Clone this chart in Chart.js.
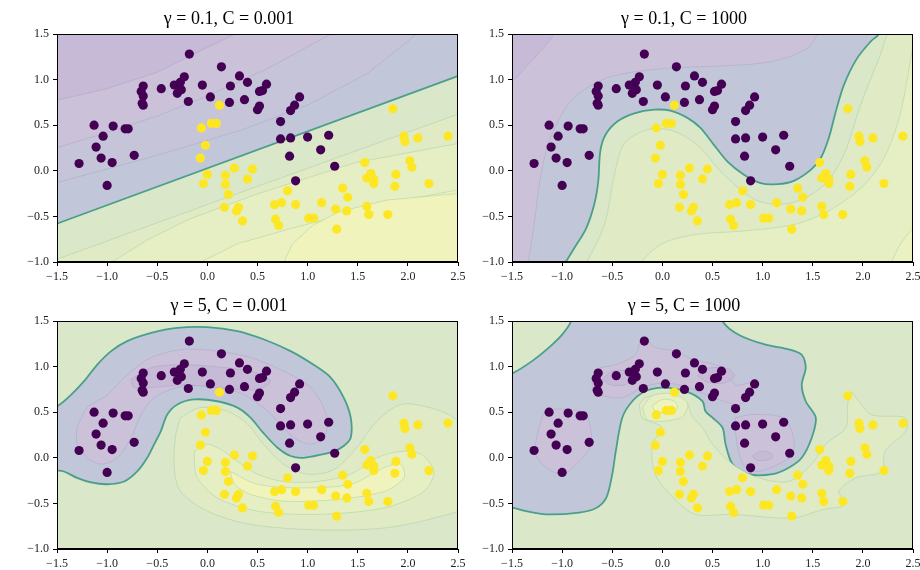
<!DOCTYPE html>
<html>
<head>
<meta charset="utf-8">
<script src="https://cdn.jsdelivr.net/npm/chart.js@4.4.1/dist/chart.umd.min.js"></script>
<style>
  body { margin: 0; background: #fff; width: 920px; height: 570px; overflow: hidden; position: relative; }
  .panel { position: absolute; width: 470px; height: 285px; }
</style>
</head>
<body>
<div class="panel" style="left:0;top:0"><canvas id="c0" width="470" height="285"></canvas></div>
<div class="panel" style="left:455px;top:0"><canvas id="c1" width="470" height="285"></canvas></div>
<div class="panel" style="left:0;top:287px"><canvas id="c2" width="470" height="285"></canvas></div>
<div class="panel" style="left:455px;top:287px"><canvas id="c3" width="470" height="285"></canvas></div>
<script>
// ---- data ----
const titles = ["γ = 0.1, C = 0.001", "γ = 0.1, C = 1000", "γ = 5, C = 0.001", "γ = 5, C = 1000"]
const xTicks = [-1.5, -1.0, -0.5, 0.0, 0.5, 1.0, 1.5, 2.0, 2.5]
const yTicks = [-1.0, -0.5, 0.0, 0.5, 1.0, 1.5]

// class 0 (upper moon)
const purplePts = [
  [-0.18, 1.28], [0.14, 1.14], [0.32, 1.04], [0.40, 0.97], [0.52, 0.87], [0.55, 0.88],
  [-0.23, 1.03], [-0.27, 0.97], [-0.33, 0.94], [-0.26, 0.89], [-0.30, 0.85], [-0.46, 0.90],
  [-0.64, 0.93], [-0.66, 0.87], [-0.64, 0.82], [-0.65, 0.74], [-0.64, 0.72],
  [-0.05, 0.94], [0.03, 0.81], [-0.19, 0.76], [0.23, 0.93], [0.22, 0.75], [0.37, 0.78],
  [0.50, 0.67], [0.52, 0.71],
  [-1.13, 0.50], [-0.94, 0.49], [-0.82, 0.46], [-0.79, 0.46], [-1.04, 0.38], [-1.11, 0.26],
  [0.59, 0.95], [0.92, 0.81], [0.87, 0.72], [0.83, 0.66], [0.73, 0.54], [0.73, 0.35],
  [0.83, 0.36], [1.00, 0.37], [1.21, 0.39],
  [-1.06, 0.14], [-0.95, 0.09], [-1.28, 0.08], [-0.73, 0.17], [-1.00, -0.16],
  [1.13, 0.23], [0.82, 0.16], [1.27, 0.05], [0.88, -0.11]
]
// class 1 (lower moon)
const yellowPts = [
  [0.12, 0.72], [-0.06, 0.47], [0.04, 0.52], [0.09, 0.52], [-0.02, 0.28], [-0.07, 0.14],
  [1.85, 0.68], [1.96, 0.38], [1.97, 0.32], [2.10, 0.36], [2.40, 0.38],
  [0.00, -0.04], [-0.04, -0.14], [0.27, 0.03], [0.45, 0.02], [0.18, -0.05], [0.18, -0.15],
  [0.21, -0.26], [0.17, -0.40], [0.31, -0.40], [0.29, -0.44], [0.35, -0.55], [0.40, -0.09],
  [1.57, 0.09], [2.02, 0.11], [2.04, 0.04], [1.63, -0.03], [1.59, -0.08], [1.66, -0.09],
  [1.66, -0.14], [1.88, -0.04], [1.87, -0.17], [2.21, -0.14],
  [1.35, -0.19], [1.40, -0.29], [0.80, -0.22], [0.67, -0.37], [0.74, -0.35], [0.88, -0.37],
  [1.14, -0.35], [1.28, -0.42], [1.39, -0.44], [1.59, -0.39], [1.61, -0.48], [1.80, -0.48],
  [0.68, -0.53], [0.71, -0.60], [1.01, -0.52], [1.06, -0.52], [1.29, -0.64]
]

// decision-function regions, polygons in data units (top-left: gamma 0.1, C 0.001)
const tlC3 = [[-1.6, 0.75], [-1.0, 0.9], [-0.5, 1.08], [-0.1, 1.3], [0.28, 1.5], [0.35, 1.7], [2.7, 1.7], [2.7, -1.2], [-1.7, -1.2]]
const tlC2 = [[-1.6, 0.22], [-1.0, 0.42], [-0.5, 0.6], [0.0, 0.82], [0.6, 1.12], [1.23, 1.5], [1.3, 1.7], [2.7, 1.7], [2.7, -1.2], [-1.7, -1.2]]
const tlC1 = [[-1.6, -0.16], [-0.5, 0.17], [0.35, 0.45], [1.0, 0.72], [1.6, 1.07], [2.09, 1.5], [2.2, 1.7], [2.7, 1.7], [2.7, -1.2], [-1.7, -1.2]]
const tlB = [[-1.6, -0.62], [2.6, 1.08], [2.7, -1.2], [-1.7, -1.2]]
const tlG1 = [[-1.6, -1.01], [0.5, -0.17], [2.6, 0.66], [2.7, -1.2], [-1.7, -1.2]]
const tlG2 = [[-1.1, -1.1], [-0.6, -0.76], [-0.18, -0.53], [0.48, -0.26], [1.48, 0.09], [2.6, 0.32], [2.7, -1.2]]
const tlG3 = [[-0.25, -1.1], [0.3, -0.8], [0.81, -0.64], [1.81, -0.35], [2.6, -0.19], [2.7, -1.2]]
const tlG4 = [[0.72, -1.1], [0.85, -0.8], [1.05, -0.6], [1.31, -0.45], [1.8, -0.32], [2.6, -0.24], [2.7, -1.2]]

// top-right: gamma 0.1, C 1000
const trP2 = [[-1.6, 0.9], [-1.5, 0.98], [-1.35, 1.15], [-1.2, 1.33], [-1.08, 1.5], [-1.0, 1.7], [-1.7, 1.7]]
const trP1 = [[-1.35, -1.1], [-1.28, -0.6], [-1.22, -0.1], [-1.12, 0.35], [-0.9, 0.78], [-0.55, 1.02], [0.0, 1.12],
  [0.6, 1.15], [1.1, 1.2], [1.45, 1.35], [1.7, 1.7], [2.7, 1.7], [2.7, -1.2], [-1.4, -1.2]]
const trB = [[-1.02, -1.1], [-0.88, -0.85], [-0.76, -0.63], [-0.68, -0.37], [-0.64, -0.12], [-0.62, 0.21],
  [-0.57, 0.39], [-0.45, 0.54], [-0.28, 0.63], [-0.08, 0.67], [0.08, 0.66], [0.25, 0.58], [0.38, 0.47],
  [0.51, 0.29], [0.65, 0.1], [0.81, -0.04], [0.98, -0.135], [1.15, -0.146], [1.31, -0.11], [1.48, 0.01],
  [1.58, 0.14], [1.66, 0.36], [1.73, 0.65], [1.81, 0.94], [1.94, 1.23], [2.08, 1.42], [2.16, 1.5],
  [2.22, 1.7], [2.7, 1.7], [2.7, -1.2], [-1.05, -1.2]]
const trY1 = [[-0.8, -1.1], [-0.58, -0.6], [-0.48, -0.05], [-0.38, 0.3], [-0.15, 0.45], [0.1, 0.44], [0.35, 0.28],
  [0.62, -0.05], [0.95, -0.33], [1.3, -0.35], [1.62, -0.15], [1.82, 0.2], [1.97, 0.7], [2.15, 1.2], [2.35, 1.7],
  [2.7, 1.7], [2.7, -1.2], [-0.85, -1.2]]
const trY2 = [[-0.3, -1.1], [-0.02, -0.81], [0.32, -0.7], [0.81, -0.66], [1.31, -0.59], [1.64, -0.45], [1.98, -0.19],
  [2.21, 0.14], [2.37, 0.61], [2.49, 1.31], [2.55, 1.7], [2.7, 1.7], [2.7, -1.2], [-0.35, -1.2]]
const trY3 = [[2.25, -1.1], [2.35, -0.85], [2.5, -0.63], [2.7, -0.5], [2.7, -1.2]]

// bottom-left: gamma 5, C 0.001
const blB = [[-1.6, 0.53], [-1.49, 0.57], [-1.36, 0.69], [-1.23, 0.84], [-1.1, 1.02], [-0.96, 1.17], [-0.8, 1.28],
  [-0.56, 1.37], [-0.3, 1.425], [0.0, 1.433], [0.3, 1.39], [0.56, 1.3], [0.83, 1.17], [1.06, 1.02], [1.23, 0.88],
  [1.36, 0.66], [1.43, 0.44], [1.43, 0.22], [1.36, 0.13], [1.26, 0.07], [1.16, 0.04], [0.96, 0.0], [0.83, 0.02],
  [0.7, 0.11], [0.56, 0.27], [0.43, 0.44], [0.3, 0.55], [0.1, 0.62], [-0.13, 0.64], [-0.3, 0.585], [-0.4, 0.475],
  [-0.465, 0.29], [-0.53, 0.15], [-0.6, 0.0], [-0.7, -0.15], [-0.83, -0.26], [-1.0, -0.29], [-1.16, -0.27],
  [-1.3, -0.22], [-1.43, -0.15], [-1.6, -0.1]]
const blP1 = [[-1.3, 0.33], [-1.2, 0.55], [-1.0, 0.69], [-0.8, 0.91], [-0.56, 1.1], [-0.23, 1.19], [0.1, 1.17],
  [0.43, 1.1], [0.76, 0.95], [1.0, 0.8], [1.13, 0.62], [1.2, 0.4], [1.16, 0.22], [1.03, 0.15], [0.86, 0.22],
  [0.73, 0.37], [0.56, 0.55], [0.33, 0.71], [0.0, 0.79], [-0.3, 0.77], [-0.53, 0.66], [-0.66, 0.48],
  [-0.76, 0.22], [-0.9, 0.0], [-1.06, -0.07], [-1.2, 0.0], [-1.3, 0.15]]
const blP2 = [[-0.76, 0.86], [-0.56, 0.99], [-0.23, 1.02], [0.17, 0.99], [0.5, 0.93], [0.63, 0.84], [0.5, 0.75],
  [0.1, 0.77], [-0.23, 0.8], [-0.56, 0.77], [-0.73, 0.77]]
const blY1 = [[-0.27, 0.44], [-0.07, 0.55], [0.2, 0.51], [0.4, 0.37], [0.56, 0.15], [0.76, -0.07], [1.0, -0.18],
  [1.26, -0.13], [1.49, 0.11], [1.69, 0.4], [1.93, 0.585], [2.22, 0.55], [2.46, 0.44], [2.6, 0.25], [2.6, -0.5],
  [2.26, -0.66], [1.76, -0.77], [1.1, -0.79], [0.43, -0.73], [0.0, -0.585], [-0.27, -0.365], [-0.33, -0.11],
  [-0.32, 0.22]]
const blY2 = [[-0.13, 0.07], [0.0, 0.15], [0.15, 0.08], [0.3, -0.04], [0.5, -0.18], [0.76, -0.26], [1.1, -0.26],
  [1.43, -0.18], [1.69, 0.0], [1.93, 0.07], [2.13, 0.04], [2.26, -0.15], [2.16, -0.37], [1.76, -0.55],
  [1.1, -0.62], [0.5, -0.585], [0.1, -0.44], [-0.1, -0.22], [-0.13, -0.04]]
const blY3 = [[0.23, -0.15], [0.5, -0.29], [0.93, -0.33], [1.43, -0.29], [1.76, -0.11], [1.93, -0.07], [1.96, -0.22],
  [1.76, -0.37], [1.26, -0.46], [0.76, -0.475], [0.43, -0.4], [0.27, -0.29]]

// bottom-right: gamma 5, C 1000
const brB = [[-1.6, 0.9], [-1.49, 0.93], [-1.3, 1.06], [-1.13, 1.21], [-1.0, 1.35], [-0.91, 1.5], [-0.88, 1.7],
  [0.58, 1.7], [0.6, 1.5], [0.76, 1.35], [1.03, 1.24], [1.26, 1.19], [1.39, 1.13], [1.43, 0.99], [1.39, 0.8],
  [1.43, 0.62], [1.53, 0.44], [1.49, 0.22], [1.39, 0.0], [1.26, -0.11], [1.1, -0.18], [0.86, -0.18],
  [0.7, -0.07], [0.63, 0.15], [0.6, 0.33], [0.5, 0.44], [0.43, 0.51], [0.4, 0.62], [0.23, 0.73], [0.0, 0.77],
  [-0.17, 0.73], [-0.3, 0.62], [-0.4, 0.44], [-0.465, 0.07], [-0.5, -0.18], [-0.56, -0.44], [-0.66, -0.55],
  [-0.83, -0.6], [-1.16, -0.62], [-1.36, -0.585], [-1.49, -0.55], [-1.6, -0.54]]
const brPL = [[-1.28, 0.07], [-1.23, 0.33], [-1.16, 0.51], [-0.93, 0.53], [-0.76, 0.475], [-0.71, 0.15],
  [-0.83, -0.04], [-1.0, -0.18], [-1.2, -0.07]]
const brPT = [[-0.7, 0.84], [-0.66, 0.97], [-0.47, 1.02], [-0.27, 1.13], [-0.2, 1.32], [-0.07, 1.21], [0.13, 1.17],
  [0.3, 1.08], [0.6, 0.99], [0.73, 0.8], [0.9, 0.82], [0.86, 0.66], [0.76, 0.585], [0.56, 0.64], [0.4, 0.71],
  [0.2, 0.79], [0.0, 0.82], [-0.2, 0.77], [-0.4, 0.66], [-0.6, 0.68], [-0.69, 0.73]]
const brPR = [[0.73, 0.44], [0.9, 0.475], [1.2, 0.44], [1.3, 0.26], [1.3, 0.04], [1.16, -0.07], [0.96, -0.15],
  [0.83, -0.11], [0.76, 0.07], [0.73, 0.29]]
const brPc1 = [[-0.6, 0.86], [-0.5, 0.95], [-0.35, 0.95], [-0.28, 0.87], [-0.38, 0.8], [-0.52, 0.8]]
const brPc2 = [[0.35, 0.9], [0.45, 0.98], [0.65, 0.98], [0.72, 0.9], [0.62, 0.82], [0.45, 0.83]]
const brPc3 = [[0.9, 0.02], [0.97, 0.07], [1.07, 0.06], [1.1, 0.01], [1.02, -0.03], [0.93, -0.02]]
const brY1 = [[-0.23, 0.585], [-0.17, 0.66], [0.03, 0.69], [0.23, 0.62], [0.3, 0.45], [0.4, 0.33], [0.5, 0.15],
  [0.7, -0.07], [0.96, -0.22], [1.26, -0.26], [1.49, -0.07], [1.63, 0.15], [1.83, 0.33], [1.85, 0.6], [1.88, 0.72],
  [1.96, 0.62], [2.09, 0.47], [2.42, 0.44], [2.43, 0.3], [2.22, 0.07], [2.19, -0.15], [1.93, -0.22], [1.76, -0.37],
  [1.83, -0.51], [1.59, -0.57], [1.3, -0.66], [0.7, -0.62], [0.33, -0.62], [0.13, -0.46], [-0.07, -0.18],
  [-0.1, 0.15], [0.0, 0.33], [-0.2, 0.44]]
const brY2 = [[-0.2, 0.55], [-0.1, 0.68], [0.1, 0.7], [0.25, 0.6], [0.2, 0.45], [0.0, 0.4], [-0.15, 0.42]]
const brY3 = [[-0.1, 0.57], [0.0, 0.64], [0.12, 0.62], [0.15, 0.54], [0.05, 0.5], [-0.07, 0.51]]

// ---- styles ----
const PU3 = "#c7bad6", PU2 = "#cbc1d9", PU1 = "#c6c4d9", BLUE = "#c1c7d8"
const GR0 = "#dae7c8", GR1 = "#e0ebc6", GR2 = "#e6efc3", GR3 = "#ebf1c0", YL = "#f0f4bc"
const edges = {
  p: ["rgba(150,140,190,0.35)", 0.8],
  g: ["rgba(150,200,150,0.5)", 0.8],
  b: ["#4a9f8b", 1.8]
}

const panels = [
  { bg: PU3, tension: 0, layers: [[tlC3, PU2, "p"], [tlC2, PU1, "p"], [tlC1, BLUE, "p"], [tlB, GR0, "b"],
    [tlG1, GR1, "g"], [tlG2, GR2, "g"], [tlG3, GR3, "g"], [tlG4, YL, "g"]] },
  { bg: PU2, tension: 0.3, layers: [[trP2, PU3, "p"], [trP1, BLUE, "p"], [trB, GR0, "b"],
    [trY1, GR1, "g"], [trY2, GR2, "g"], [trY3, GR3, "g"]] },
  { bg: GR0, tension: 0.3, layers: [[blB, BLUE, "b"], [blP1, PU2, "p"], [blP2, PU3, "p"],
    [blY1, GR1, "g"], [blY2, GR2, "g"], [blY3, YL, "g"]] },
  { bg: GR0, tension: 0.3, layers: [[brB, BLUE, "b"], [brPL, PU2, "p"], [brPT, PU2, "p"], [brPR, PU2, "p"],
    [brPc1, PU3, "p"], [brPc2, PU3, "p"], [brPc3, PU3, "p"], [brY1, GR1, "g"], [brY2, GR2, "g"], [brY3, YL, "g"]] }
]

const toXY = ([x, y]) => ({ x, y })
const ring = pts => pts.concat([pts[0]]).map(toXY)
const fmt = v => (v < 0 ? "\u2212" : "") + Math.abs(v).toFixed(1)

const framePlugin = {
  id: "frame",
  beforeDatasetsDraw(chart, args, opts) {
    const { ctx, chartArea: a } = chart
    ctx.save()
    ctx.fillStyle = opts.bg
    ctx.fillRect(a.left, a.top, a.right - a.left, a.bottom - a.top)
    ctx.restore()
  },
  afterDatasetsDraw(chart) {
    const { ctx, chartArea: a } = chart
    ctx.save()
    ctx.strokeStyle = "#000"
    ctx.lineWidth = 1
    ctx.strokeRect(Math.round(a.left) + 0.5, Math.round(a.top) + 0.5,
      Math.round(a.right - a.left) - 1, Math.round(a.bottom - a.top) - 1)
    ctx.restore()
  }
}

const tickFont = { family: "Liberation Serif", size: 12 }

panels.forEach((p, k) => {
  const datasets = [
    { data: purplePts.map(toXY), backgroundColor: "#440154", pointRadius: 4.6, borderWidth: 0, order: 0 },
    { data: yellowPts.map(toXY), backgroundColor: "#fde725", pointRadius: 4.6, borderWidth: 0, order: 1 }
  ]
  p.layers.forEach(([pts, color, kind], i) => {
    datasets.push({
      type: "line",
      data: ring(pts),
      fill: "shape",
      backgroundColor: color,
      borderColor: edges[kind][0],
      borderWidth: edges[kind][1],
      pointRadius: 0,
      tension: p.tension,
      order: 100 - i
    })
  })

  new Chart(document.getElementById("c" + k), {
    type: "scatter",
    data: { datasets },
    plugins: [framePlugin],
    options: {
      responsive: false,
      animation: false,
      events: [],
      layout: { padding: { left: 0, right: 12, top: 0, bottom: 0 } },
      elements: { line: { capBezierPoints: false } },
      plugins: {
        legend: { display: false },
        tooltip: { enabled: false },
        frame: { bg: p.bg },
        title: {
          display: true,
          text: titles[k],
          color: "#000",
          font: { family: "Liberation Serif", size: 18, weight: "normal" },
          padding: { top: 8.4, bottom: 4 }
        }
      },
      scales: {
        x: {
          type: "linear", min: -1.5, max: 2.5,
          afterBuildTicks: s => { s.ticks = xTicks.map(v => ({ value: v })) },
          afterFit: s => { s.height = 23; s.paddingLeft = 0; s.paddingRight = 0 },
          ticks: { callback: fmt, font: tickFont, color: "#222", padding: 4, maxRotation: 0, autoSkip: false },
          grid: { drawOnChartArea: false, tickLength: 4, color: "#000" },
          border: { color: "#000" }
        },
        y: {
          type: "linear", min: -1, max: 1.5,
          afterBuildTicks: s => { s.ticks = yTicks.map(v => ({ value: v })) },
          afterFit: s => { s.width = 57; s.paddingTop = 0; s.paddingBottom = 0 },
          ticks: { callback: fmt, font: tickFont, color: "#222", padding: 4, autoSkip: false },
          grid: { drawOnChartArea: false, tickLength: 4, color: "#000" },
          border: { color: "#000" }
        }
      }
    }
  })
})
</script>
</body>
</html>
